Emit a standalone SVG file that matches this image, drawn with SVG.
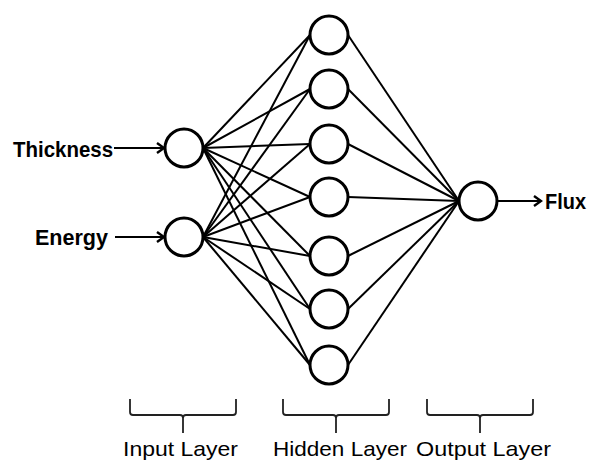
<svg xmlns="http://www.w3.org/2000/svg" width="589" height="462" viewBox="0 0 589 462">
<style>
.node{fill:#fff;stroke:#000;stroke-width:3}
.edge{stroke:#000;stroke-width:2;fill:none}
.arr{stroke:#000;stroke-width:2.2;fill:none;marker-end:url(#ah)}
.brace{stroke:#222;stroke-width:1.8;fill:none}
.lbl{font-family:"Liberation Sans",Arial,sans-serif;font-weight:bold;font-size:22px;fill:#000}
.lay{font-family:"Liberation Sans",Arial,sans-serif;font-size:21px;fill:#000}
</style>
<defs>
<marker id="ah" markerWidth="12" markerHeight="12" refX="10" refY="6" orient="auto" markerUnits="userSpaceOnUse">
<path d="M3,1 L10,6 L3,11" fill="none" stroke="#000" stroke-width="2.4"/>
</marker>
</defs>
<g id="connectors">
<line class="edge" x1="203" y1="148" x2="310" y2="35"/>
<line class="edge" x1="203" y1="148" x2="310" y2="89"/>
<line class="edge" x1="203" y1="148" x2="310" y2="144"/>
<line class="edge" x1="203" y1="148" x2="310" y2="197"/>
<line class="edge" x1="203" y1="148" x2="310" y2="256"/>
<line class="edge" x1="203" y1="148" x2="310" y2="309"/>
<line class="edge" x1="203" y1="148" x2="310" y2="365"/>
<line class="edge" x1="203" y1="237" x2="310" y2="35"/>
<line class="edge" x1="203" y1="237" x2="310" y2="89"/>
<line class="edge" x1="203" y1="237" x2="310" y2="144"/>
<line class="edge" x1="203" y1="237" x2="310" y2="197"/>
<line class="edge" x1="203" y1="237" x2="310" y2="256"/>
<line class="edge" x1="203" y1="237" x2="310" y2="309"/>
<line class="edge" x1="203" y1="237" x2="310" y2="365"/>
<line class="edge" x1="348" y1="35" x2="459" y2="201"/>
<line class="edge" x1="348" y1="89" x2="459" y2="201"/>
<line class="edge" x1="348" y1="144" x2="459" y2="201"/>
<line class="edge" x1="348" y1="197" x2="459" y2="201"/>
<line class="edge" x1="348" y1="256" x2="459" y2="201"/>
<line class="edge" x1="348" y1="309" x2="459" y2="201"/>
<line class="edge" x1="348" y1="365" x2="459" y2="201"/>
<line class="arr" x1="114" y1="148" x2="164" y2="148"/>
<line class="arr" x1="115" y1="237" x2="164" y2="237"/>
<line class="arr" x1="498" y1="201" x2="541" y2="201"/>
</g>
<g id="in1"><circle class="node" cx="184" cy="148" r="19"/><text class="lbl" x="13" y="157" textLength="100" lengthAdjust="spacingAndGlyphs">Thickness</text></g>
<g id="in2"><circle class="node" cx="184" cy="237" r="19"/><text class="lbl" x="35" y="245" textLength="73" lengthAdjust="spacingAndGlyphs">Energy</text></g>
<g id="h1"><circle class="node" cx="329" cy="35" r="19"/></g>
<g id="h2"><circle class="node" cx="329" cy="89" r="19"/></g>
<g id="h3"><circle class="node" cx="329" cy="144" r="19"/></g>
<g id="h4"><circle class="node" cx="329" cy="197" r="19"/></g>
<g id="h5"><circle class="node" cx="329" cy="256" r="19"/></g>
<g id="h6"><circle class="node" cx="329" cy="309" r="19"/></g>
<g id="h7"><circle class="node" cx="329" cy="365" r="19"/></g>
<g id="out"><circle class="node" cx="478" cy="201" r="19"/><text class="lbl" x="545" y="209" textLength="41" lengthAdjust="spacingAndGlyphs">Flux</text></g>
<g id="input-layer">
<path class="brace" d="M130,399 V412 Q130,415 133,415 H180 Q183,415 183,418 V433 M183,418 Q183,415 186,415 H233 Q236,415 236,412 V399"/>
<text class="lay" x="123" y="456" textLength="115" lengthAdjust="spacingAndGlyphs">Input Layer</text>
</g>
<g id="hidden-layer">
<path class="brace" d="M283,399 V412 Q283,415 286,415 H333 Q336,415 336,418 V433 M336,418 Q336,415 339,415 H386 Q389,415 389,412 V399"/>
<text class="lay" x="273" y="456" textLength="134" lengthAdjust="spacingAndGlyphs">Hidden Layer</text>
</g>
<g id="output-layer">
<path class="brace" d="M427,399 V412 Q427,415 430,415 H477 Q480,415 480,418 V433 M480,418 Q480,415 483,415 H530 Q533,415 533,412 V399"/>
<text class="lay" x="416" y="456" textLength="135" lengthAdjust="spacingAndGlyphs">Output Layer</text>
</g>
</svg>
